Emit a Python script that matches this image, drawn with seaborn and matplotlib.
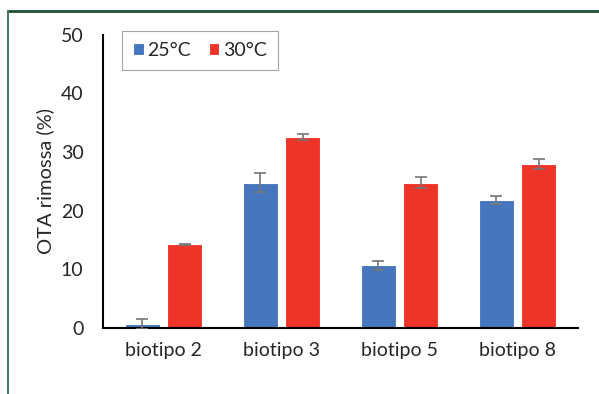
import pandas as pd
import matplotlib.pyplot as plt
import seaborn as sns
from matplotlib.lines import Line2D

# --- Data ---
biotypes = ["biotipo 2", "biotipo 3", "biotipo 5", "biotipo 8"]
temps = ["25°C", "30°C"]
removed_25 = [0.7, 24.8, 10.7, 21.8]
removed_30 = [14.3, 32.5, 24.8, 28.0]
err_25 = [0.8, 1.6, 0.8, 0.7]
err_30 = [0.1, 0.5, 1.0, 0.8]

colors = {"25°C": "#4677BE", "30°C": "#EE3429"}

rows = []
for i, b in enumerate(biotypes):
    rows.append({"Biotipo": b, "Temp": temps[0], "Value": removed_25[i], "Err": err_25[i]})
    rows.append({"Biotipo": b, "Temp": temps[1], "Value": removed_30[i], "Err": err_30[i]})
df = pd.DataFrame(rows)

sns.set_style("white")
plt.rcParams["font.family"] = ["Lato", "DejaVu Sans"]

fig = plt.figure(figsize=(5.99, 3.94), dpi=100)
ax = fig.add_axes([0.172, 0.167, 0.793, 0.745])

sns.barplot(data=df, x="Biotipo", y="Value", hue="Temp", palette=colors,
            order=biotypes, hue_order=temps, width=0.72, gap=0.17, saturation=1,
            errorbar=None, edgecolor="white", linewidth=0.8, ax=ax)

# error bars on top of each bar
for container, t in zip(ax.containers, temps):
    sub = df[df["Temp"] == t].set_index("Biotipo").loc[biotypes]
    xs = [p.get_x() + p.get_width() / 2 for p in container.patches]
    ax.errorbar(xs, sub["Value"], yerr=sub["Err"], fmt="none",
                ecolor="#767676", elinewidth=1.2, capsize=4, capthick=1.2, zorder=3)

ax.set_ylim(0, 50)
ax.set_yticks([0, 10, 20, 30, 40, 50])
ax.set_xlabel("")
ax.set_ylabel("OTA rimossa (%)", fontsize=14.5, labelpad=5)
ax.tick_params(axis="both", length=0, labelsize=14)
ax.tick_params(axis="y", pad=14)
ax.tick_params(axis="x", pad=10)
for s in ["top", "right"]:
    ax.spines[s].set_visible(False)
for s in ["left", "bottom"]:
    ax.spines[s].set_color("black")
    ax.spines[s].set_linewidth(1.5)

leg = ax.legend(loc="upper left", bbox_to_anchor=(0.02, 1.045), ncol=2,
                frameon=True, fancybox=False, fontsize=14,
                handlelength=0.55, handleheight=0.55, handletextpad=0.2,
                columnspacing=0.9, borderpad=0.55)
leg.get_frame().set_edgecolor("#8c8c8c")
leg.get_frame().set_linewidth(0.8)

# outer frame lines like the original document border
fig.add_artist(Line2D([0.013, 1.0], [0.973, 0.973], color="#1f4d34", lw=2.0))
fig.add_artist(Line2D([0.014, 0.014], [0.0, 0.973], color="#4d7a63", lw=1.5))

fig.savefig("out.png", dpi=100)
